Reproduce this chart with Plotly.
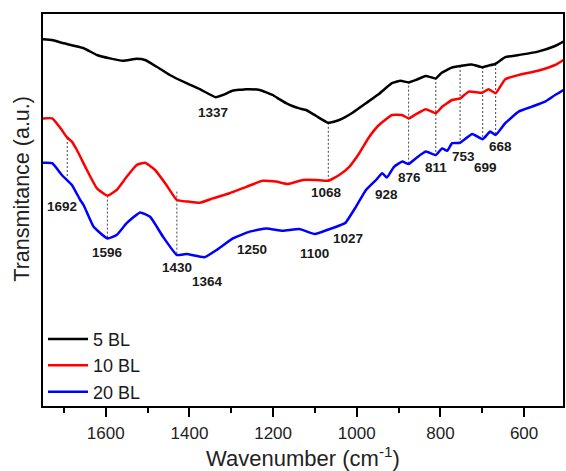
import plotly.graph_objects as go

# ---- data ----
wn_5 = [1750, 1728, 1705, 1654, 1621, 1590, 1559, 1526, 1506, 1478, 1447, 1407, 1375, 1337, 1320,
        1297, 1264, 1232, 1201, 1185, 1169, 1154, 1137, 1121, 1097, 1068, 1042, 1011, 978, 947,
        916, 895, 876, 859, 835, 811, 797, 773, 752, 725, 701, 685, 669, 645, 613, 567, 526, 506]
t_5 = [91.7, 91.5, 90.8, 89.5, 87.75, 86.9, 86.3, 86.8, 86.5, 84.8, 82.75, 80.7, 79.2, 77.2, 77.75,
       78.8, 79.2, 79.0, 77.75, 76.7, 75.7, 75.0, 74.4, 74.0, 72.5, 70.8, 71.5, 73.25, 75.7, 78.0,
       80.7, 81.3, 80.9, 81.5, 82.5, 81.9, 83.3, 84.6, 85.0, 85.4, 84.7, 85.1, 85.5, 87.2, 87.75, 88.6, 90.0, 91.1]

wn_10 = [1750, 1728, 1705, 1693, 1681, 1669, 1645, 1621, 1596, 1574, 1550, 1526, 1506, 1482, 1455,
         1430, 1403, 1375, 1344, 1304, 1264, 1225, 1193, 1165, 1129, 1097, 1068, 1042, 1018, 994,
         970, 947, 916, 892, 876, 859, 835, 811, 796, 772, 753, 732, 700, 685, 668, 645, 613, 567, 526, 506]
t_10 = [71.9, 71.9, 69.0, 67.2, 66.1, 64.0, 59.0, 54.4, 52.6, 54.0, 57.3, 60.25, 60.8, 59.0, 55.25,
        51.5, 51.1, 50.8, 51.9, 53.2, 54.8, 56.3, 56.1, 55.5, 56.5, 56.5, 56.3, 57.75, 59.8, 63.2,
        67.3, 70.25, 72.75, 72.75, 71.9, 72.9, 74.2, 73.2, 74.8, 76.5, 76.9, 78.6, 78.3, 79.2, 78.2,
        81.7, 82.75, 83.8, 85.25, 86.5]

wn_20 = [1750, 1728, 1705, 1681, 1661, 1653, 1629, 1596, 1574, 1550, 1518, 1494, 1463, 1430, 1407,
         1364, 1335, 1296, 1256, 1216, 1177, 1137, 1100, 1066, 1038, 1027, 1002, 978, 954, 939,
         928, 911, 891, 876, 859, 835, 811, 796, 784, 772, 753, 724, 699, 681, 668, 645, 613, 582,
         550, 526, 506]
t_20 = [60.8, 60.7, 57.75, 55.25, 51.5, 50.25, 44.8, 41.9, 42.75, 45.7, 48.4, 47.3, 42.3, 37.75, 38.0,
        37.2, 39.0, 41.9, 43.6, 44.4, 43.8, 44.25, 43.0, 44.2, 45.25, 45.8, 49.8, 54.0, 56.5, 58.2,
        57.1, 59.8, 61.1, 60.5, 61.9, 63.6, 62.75, 64.4, 63.8, 65.7, 65.8, 68.0, 66.7, 68.6, 67.75,
        70.7, 73.6, 74.8, 76.1, 77.75, 79.0]

# marked band positions: wavenumber, upper / lower end of the guide line
guide_wn = [1692, 1596, 1430, 1068, 876, 811, 753, 699, 668]
guide_top = [67.0, 52.6, 53.6, 70.8, 81.1, 82.0, 85.0, 84.75, 85.5]
guide_bot = [57.0, 42.0, 37.75, 56.5, 60.75, 62.75, 65.8, 66.75, 67.75]

# peak labels: wavenumber and label height
peak_wn = [1692, 1596, 1430, 1364, 1337, 1250, 1100, 1068, 1027, 928, 876, 811, 753, 699, 668]
peak_y = [50.0, 38.3, 34.75, 31.1, 73.4, 39.2, 38.2, 53.4, 41.9, 53.0, 57.2, 59.7, 62.5, 59.7, 65.0]
peak_dx = [-5, 0, 0, 3, -3, 0, 0, -2, 3, 0, 1, 0, 3, 3, 5]

series_names = ["5 BL", "10 BL", "20 BL"]
series_colors = ["#000000", "#ff0000", "#0000ff"]

FONT = "Liberation Sans, Arial, sans-serif"

fig = go.Figure()
for name, col, xs, ys in zip(series_names, series_colors, [wn_5, wn_10, wn_20], [t_5, t_10, t_20]):
    fig.add_trace(go.Scatter(x=xs, y=ys, mode="lines", name=name,
                             line=dict(color=col, width=2.5, shape="spline", smoothing=0.4)))

for w, y0, y1 in zip(guide_wn, guide_top, guide_bot):
    fig.add_shape(type="line", x0=w, x1=w, y0=y0, y1=y1, xref="x", yref="y",
                  line=dict(color="#444444", width=1, dash="2px,2px"), layer="below")

for w, y, dx in zip(peak_wn, peak_y, peak_dx):
    fig.add_annotation(x=w, y=y, text="<b>%d</b>" % w, showarrow=False, xshift=dx,
                       font=dict(family=FONT, size=13.5, color="#1a1a1a"))

fig.add_annotation(text="Transmitance (a.u.)", xref="paper", yref="paper", x=-0.04, y=0.555,
                   textangle=-90, showarrow=False, xanchor="center", yanchor="middle",
                   font=dict(family=FONT, size=21.5, color="#222222"))

fig.update_layout(
    width=566, height=471,
    margin=dict(l=43, r=1, t=14, b=65),
    paper_bgcolor="white", plot_bgcolor="white",
    font=dict(family=FONT, color="#222222"),
    showlegend=True,
    legend=dict(x=0.0, y=-0.012, xanchor="left", yanchor="bottom", bgcolor="rgba(0,0,0,0)",
                font=dict(family=FONT, size=18, color="#1a1a1a"), tracegroupgap=0,
                itemwidth=40),
    xaxis=dict(range=[1750, 507], showline=True, linecolor="black", linewidth=2, mirror=True,
               ticks="outside", ticklen=9, tickwidth=2, tickcolor="black", dtick=200, tick0=0,
               showgrid=False, zeroline=False, ticklabelstandoff=2,
               tickfont=dict(family=FONT, size=17, color="#222222"),
               minor=dict(ticks="outside", ticklen=5, tickwidth=2, dtick=100, tickcolor="black", showgrid=False),
               title=dict(text="Wavenumber (cm<sup>-1</sup>)", font=dict(family=FONT, size=22, color="#222222"),
                          standoff=8)),
    yaxis=dict(range=[0, 98], showline=True, linecolor="black", linewidth=2, mirror=True,
               showticklabels=False, ticks="", showgrid=False, zeroline=False),
)

fig.write_html("out.html", config={"displayModeBar": False},
               post_script="document.body.style.margin='0';document.body.style.overflow='hidden';")
